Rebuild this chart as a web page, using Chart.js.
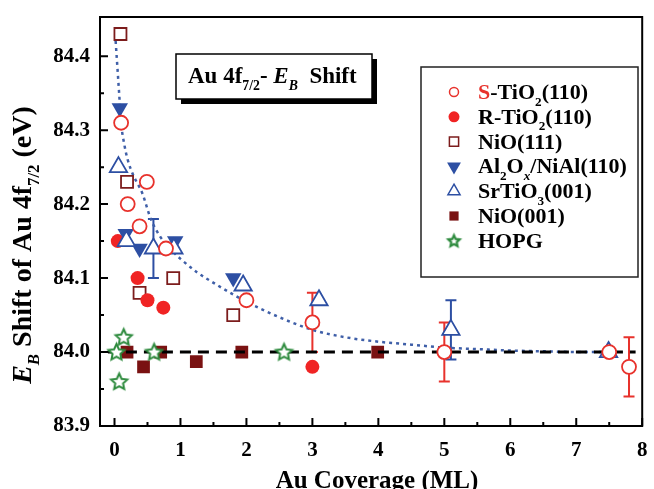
<!DOCTYPE html>
<html>
<head>
<meta charset="utf-8">
<script src="https://cdn.jsdelivr.net/npm/chart.js@4.4.1/dist/chart.umd.min.js"></script>
<style>
html, body { margin: 0; padding: 0; background: #fff; }
</style>
</head>
<body>
<canvas id="chart" width="654" height="489"></canvas>
<script>
// values
const sTiO2X = [0.1, 0.2, 0.38, 0.49, 0.78, 2.0, 3.0, 5.0, 7.5, 7.8];
const sTiO2Y = [84.31, 84.20, 84.17, 84.23, 84.14, 84.07, 84.04, 84.0, 84.0, 83.98];
const sTiO2Err = [0, 0, 0, 0, 0, 0, 0.04, 0.04, 0, 0.04];

const rTiO2X = [0.05, 0.35, 0.5, 0.74, 3.0];
const rTiO2Y = [84.15, 84.10, 84.07, 84.06, 83.98];

const nio111X = [0.09, 0.19, 0.38, 0.89, 1.8];
const nio111Y = [84.43, 84.23, 84.08, 84.10, 84.05];

const alOxX = [0.08, 0.17, 0.38, 0.92, 1.8];
const alOxY = [84.33, 84.16, 84.14, 84.15, 84.10];

const srTiO3X = [0.06, 0.18, 0.59, 0.9, 1.95, 3.1, 5.1, 7.49];
const srTiO3Y = [84.25, 84.15, 84.14, 84.14, 84.09, 84.07, 84.03, 84.0];
const srTiO3Err = [0, 0, 0.04, 0, 0, 0, 0.04, 0];

const nio001X = [0.19, 0.44, 0.7, 1.24, 1.93, 3.99];
const nio001Y = [84.0, 83.98, 84.0, 83.987, 84.0, 84.0];

const hopgX = [0.03, 0.14, 0.07, 0.6, 2.57];
const hopgY = [84.0, 84.02, 83.96, 84.0, 84.0];

// dotted fit curve
const fitX = [0.01, 0.04, 0.07, 0.1, 0.15, 0.2, 0.28, 0.42, 0.55, 0.7, 0.86, 1.0, 1.25, 1.53, 2.0, 2.5, 3.0, 3.5, 4.0, 4.5, 5.0, 5.5, 6.0, 6.5, 7.0, 7.5];
const fitY = [84.43, 84.39, 84.35, 84.31, 84.28, 84.26, 84.24, 84.215, 84.18, 84.155, 84.138, 84.126, 84.108, 84.092, 84.068, 84.047, 84.03, 84.02, 84.014, 84.01, 84.006, 84.004, 84.002, 84.001, 84.0, 84.0];

const refX = [-0.1, 7.9];
const refY = [84.0, 84.0];

const xTicks = [0, 1, 2, 3, 4, 5, 6, 7, 8];
const xMinor = [0.5, 1.5, 2.5, 3.5, 4.5, 5.5, 6.5, 7.5];
const yTicks = [83.9, 84.0, 84.1, 84.2, 84.3, 84.4];
const yMinor = [83.95, 84.05, 84.15, 84.25, 84.35];

const FONT = '"Liberation Serif", "Times New Roman", serif';
const RED = '#e8322c';
const RED_FILL = '#f02424';
const DARKRED = '#7c1c1c';
const DARKRED_FILL = '#7a1212';
const BLUE = '#2d4fa3';
const BLUE_LINE = '#3f5fa8';
const GREEN = '#2e8b3e';

function pts(xs, ys) {
  return xs.map((x, i) => ({ x: x, y: ys[i] }));
}

function makeStar(r, stroke, lw) {
  const c = document.createElement('canvas');
  const s = Math.ceil(2 * r + 2 * lw + 2);
  c.width = s; c.height = s;
  const g = c.getContext('2d');
  g.translate(s / 2, s / 2 + 0.5);
  g.beginPath();
  for (let i = 0; i < 10; i++) {
    const rr = i % 2 ? r * 0.48 : r;
    const a = -Math.PI / 2 + i * Math.PI / 5;
    g.lineTo(rr * Math.cos(a), rr * Math.sin(a));
  }
  g.closePath();
  g.fillStyle = '#fff';
  g.fill();
  g.lineWidth = lw;
  g.lineJoin = 'miter';
  g.strokeStyle = stroke;
  g.stroke();
  return c;
}
const starBig = makeStar(8.5, GREEN, 2);
const starSmall = makeStar(6, GREEN, 2.2);

function drawRich(ctx, parts, x, y, size) {
  parts.forEach(p => {
    const s = p.sub ? size * 0.6 : size;
    ctx.font = (p.it ? 'italic ' : '') + 'bold ' + s + 'px ' + FONT;
    ctx.fillStyle = p.color || '#000';
    ctx.fillText(p.t, x, y + (p.sub ? size * 0.3 : 0));
    x += ctx.measureText(p.t).width;
  });
  return x;
}
function richWidth(ctx, parts, size) {
  let w = 0;
  parts.forEach(p => {
    const s = p.sub ? size * 0.6 : size;
    ctx.font = (p.it ? 'italic ' : '') + 'bold ' + s + 'px ' + FONT;
    w += ctx.measureText(p.t).width;
  });
  return w;
}

const legendRows = [
  { parts: [{ t: 'S', color: RED }, { t: '-TiO' }, { t: '2', sub: true }, { t: '(110)' }],
    mark: { pointStyle: 'circle', radius: 4.5, borderWidth: 2.5, fill: '#fff', stroke: RED } },
  { parts: [{ t: 'R-TiO' }, { t: '2', sub: true }, { t: '(110)' }],
    mark: { pointStyle: 'circle', radius: 5.5, borderWidth: 0, fill: RED_FILL, stroke: RED_FILL } },
  { parts: [{ t: 'NiO(111)' }],
    mark: { pointStyle: 'rect', radius: 6.5, borderWidth: 3, fill: '#fff', stroke: DARKRED } },
  { parts: [{ t: 'Al' }, { t: '2', sub: true }, { t: 'O' }, { t: 'x', sub: true, it: true }, { t: '/NiAl(110)' }],
    mark: { pointStyle: 'triangle', radius: 8, rotation: 180, borderWidth: 0, fill: BLUE, stroke: BLUE } },
  { parts: [{ t: 'SrTiO' }, { t: '3', sub: true }, { t: '(001)' }],
    mark: { pointStyle: 'triangle', radius: 7, borderWidth: 2.5, fill: '#fff', stroke: BLUE } },
  { parts: [{ t: 'NiO(001)' }],
    mark: { pointStyle: 'rect', radius: 6.5, borderWidth: 0, fill: DARKRED_FILL, stroke: DARKRED_FILL } },
  { parts: [{ t: 'HOPG' }],
    mark: { pointStyle: starSmall, radius: 6, borderWidth: 0, fill: GREEN, stroke: GREEN } }
];

const errorBars = {
  id: 'errorBars',
  beforeDatasetsDraw(chart) {
    const ctx = chart.ctx;
    const xs = chart.scales.x, ys = chart.scales.y;
    chart.data.datasets.forEach(ds => {
      if (!ds.errY) return;
      ctx.save();
      ctx.strokeStyle = ds.borderColor;
      ctx.lineWidth = 2;
      ds.data.forEach((p, i) => {
        const e = ds.errY[i];
        if (!e) return;
        const px = xs.getPixelForValue(p.x);
        const top = ys.getPixelForValue(p.y + e);
        const bot = ys.getPixelForValue(p.y - e);
        ctx.beginPath();
        ctx.moveTo(px, top); ctx.lineTo(px, bot);
        ctx.moveTo(px - 5.5, top); ctx.lineTo(px + 5.5, top);
        ctx.moveTo(px - 5.5, bot); ctx.lineTo(px + 5.5, bot);
        ctx.stroke();
      });
      ctx.restore();
    });
  }
};

const decor = {
  id: 'decor',
  afterDraw(chart) {
    const ctx = chart.ctx;
    const a = chart.chartArea;
    const xs = chart.scales.x, ys = chart.scales.y;
    ctx.save();
    // frame
    ctx.strokeStyle = '#000';
    ctx.lineWidth = 2;
    ctx.strokeRect(a.left, a.top, a.right - a.left, a.bottom - a.top);
    // inward ticks on bottom and left axes
    ctx.beginPath();
    xTicks.forEach(v => { const p = xs.getPixelForValue(v); ctx.moveTo(p, a.bottom); ctx.lineTo(p, a.bottom - 8); });
    xMinor.forEach(v => { const p = xs.getPixelForValue(v); ctx.moveTo(p, a.bottom); ctx.lineTo(p, a.bottom - 4); });
    yTicks.forEach(v => { const p = ys.getPixelForValue(v); ctx.moveTo(a.left, p); ctx.lineTo(a.left + 8, p); });
    yMinor.forEach(v => { const p = ys.getPixelForValue(v); ctx.moveTo(a.left, p); ctx.lineTo(a.left + 4, p); });
    ctx.stroke();

    // title box with shadow
    const bx = 176, by = 54, bw = 196, bh = 45;
    ctx.fillStyle = '#000';
    ctx.fillRect(bx + 5, by + 5, bw, bh);
    ctx.fillStyle = '#fff';
    ctx.fillRect(bx, by, bw, bh);
    ctx.lineWidth = 1.5;
    ctx.strokeRect(bx, by, bw, bh);
    ctx.textBaseline = 'alphabetic';
    drawRich(ctx, [{ t: 'Au 4f' }, { t: '7/2', sub: true }, { t: '- ' }, { t: 'E', it: true }, { t: 'B', sub: true, it: true }, { t: '  Shift' }], 188, 83, 23);

    // legend
    const lx = 421, ly = 67, lw = 217, lh = 210;
    ctx.fillStyle = '#fff';
    ctx.fillRect(lx, ly, lw, lh);
    ctx.strokeStyle = '#222';
    ctx.lineWidth = 1.5;
    ctx.strokeRect(lx, ly, lw, lh);
    legendRows.forEach((row, i) => {
      const cy = 92 + i * 24.8;
      ctx.fillStyle = row.mark.fill;
      ctx.strokeStyle = row.mark.stroke;
      Chart.helpers.drawPoint(ctx, {
        pointStyle: row.mark.pointStyle, radius: row.mark.radius,
        rotation: row.mark.rotation || 0, borderWidth: row.mark.borderWidth
      }, 454, cy);
      drawRich(ctx, row.parts, 478, cy + 7, 22);
    });

    // axis titles
    ctx.fillStyle = '#000';
    const yParts = [{ t: 'E', it: true }, { t: 'B', sub: true, it: true }, { t: ' Shift of Au 4f' }, { t: '7/2', sub: true }, { t: ' (eV)' }];
    const yw = richWidth(ctx, yParts, 28);
    ctx.save();
    ctx.translate(31, 245);
    ctx.rotate(-Math.PI / 2);
    drawRich(ctx, yParts, -yw / 2, 0, 28);
    ctx.restore();

    const xParts = [{ t: 'Au Coverage (ML)' }];
    const xw = richWidth(ctx, xParts, 25);
    drawRich(ctx, xParts, 377 - xw / 2, 488, 25);
    ctx.restore();
  }
};

const tickFont = { family: FONT, size: 21, weight: 'bold' };

const config = {
  type: 'scatter',
  data: {
    datasets: [
      { label: 'HOPG', data: pts(hopgX, hopgY), order: 1,
        pointStyle: starBig, pointRadius: 8, borderColor: GREEN, backgroundColor: GREEN },
      { label: 'S-TiO2(110)', data: pts(sTiO2X, sTiO2Y), errY: sTiO2Err, order: 2,
        pointStyle: 'circle', pointRadius: 7, pointBorderWidth: 1.8, borderColor: RED, backgroundColor: '#fff' },
      { label: 'SrTiO3(001)', data: pts(srTiO3X, srTiO3Y), errY: srTiO3Err, order: 3,
        pointStyle: 'triangle', pointRadius: 10, pointBorderWidth: 1.8, borderColor: BLUE, backgroundColor: '#fff' },
      { label: 'Al2Ox/NiAl(110)', data: pts(alOxX, alOxY), order: 4,
        pointStyle: 'triangle', pointRotation: 180, pointRadius: 9.5, pointBorderWidth: 0, borderColor: BLUE, backgroundColor: BLUE },
      { label: 'R-TiO2(110)', data: pts(rTiO2X, rTiO2Y), order: 5,
        pointStyle: 'circle', pointRadius: 7, pointBorderWidth: 0, borderColor: RED_FILL, backgroundColor: RED_FILL },
      { label: 'NiO(111)', data: pts(nio111X, nio111Y), order: 6,
        pointStyle: 'rect', pointRadius: 8.5, pointBorderWidth: 1.8, borderColor: DARKRED, backgroundColor: '#fff' },
      { label: 'zero', data: pts(refX, refY), order: 7, showLine: true, pointRadius: 0,
        borderColor: '#000', borderWidth: 3, borderDash: [11, 7] },
      { label: 'NiO(001)', data: pts(nio001X, nio001Y), order: 8,
        pointStyle: 'rect', pointRadius: 9, pointBorderWidth: 0, borderColor: DARKRED_FILL, backgroundColor: DARKRED_FILL },
      { label: 'fit', data: pts(fitX, fitY), order: 9, showLine: true, pointRadius: 0,
        borderColor: BLUE_LINE, borderWidth: 2.5, borderDash: [3, 4], cubicInterpolationMode: 'monotone' }
    ]
  },
  options: {
    responsive: false,
    animation: false,
    events: [],
    layout: { padding: { top: 17, right: 4, left: 0, bottom: 0 } },
    plugins: { legend: { display: false }, tooltip: { enabled: false } },
    scales: {
      x: {
        type: 'linear', min: -0.22, max: 8.0,
        grid: { display: false, drawTicks: false },
        border: { display: false },
        afterBuildTicks: s => { s.ticks = xTicks.map(v => ({ value: v })); },
        afterFit: s => { s.height = 63; s.paddingLeft = 0; s.paddingRight = 0; },
        ticks: { font: tickFont, color: '#000', padding: 12, autoSkip: false, maxRotation: 0,
          callback: v => String(v) }
      },
      y: {
        type: 'linear', min: 83.9, max: 84.453,
        grid: { display: false, drawTicks: false },
        border: { display: false },
        afterBuildTicks: s => { s.ticks = yTicks.map(v => ({ value: v })); },
        afterFit: s => { s.width = 100; s.paddingTop = 0; s.paddingBottom = 0; },
        ticks: { font: tickFont, color: '#000', padding: 10, autoSkip: false,
          callback: v => Number(v).toFixed(1) }
      }
    }
  },
  plugins: [errorBars, decor]
};

new Chart(document.getElementById('chart').getContext('2d'), config);
</script>
</body>
</html>
